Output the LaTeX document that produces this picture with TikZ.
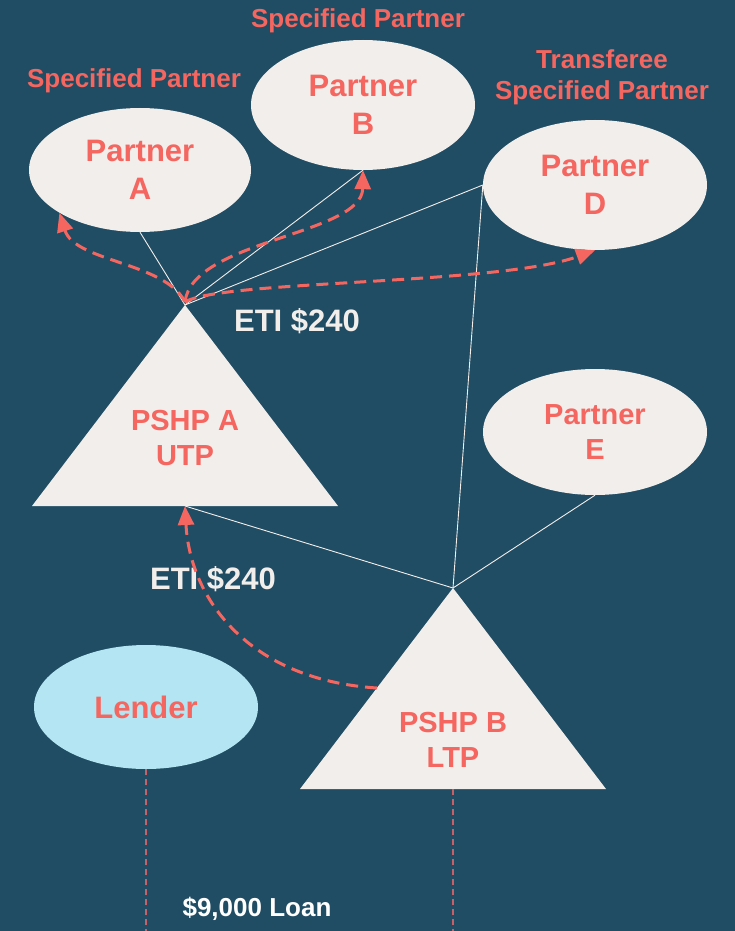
\documentclass[tikz,border=0pt]{standalone}
\usepackage{fontspec}
\setmainfont{Liberation Sans}
\usetikzlibrary{shapes.geometric,arrows.meta}

\definecolor{bg}{HTML}{204D63}
\definecolor{coral}{HTML}{F4665F}
\definecolor{shell}{HTML}{F2EEEB}
\definecolor{sky}{HTML}{B3E6F2}
\definecolor{guide}{HTML}{C8606A}

\tikzset{
  party/.style={ellipse, fill=shell, draw=none, minimum width=224pt, minimum height=128pt,
    inner sep=0pt, align=center, text=coral, font=\bfseries\fontsize{31}{38}\selectfont},
  tag/.style={text=coral, font=\bfseries\fontsize{26}{31}\selectfont, align=center, inner sep=0pt},
  eti/.style={text=shell, font=\bfseries\fontsize{31}{36}\selectfont, inner sep=0pt},
  loan/.style={text=white, font=\bfseries\fontsize{26}{31}\selectfont, inner sep=0pt},
  entity/.style={text=coral, font=\bfseries\fontsize{29}{35}\selectfont, align=center, inner sep=0pt},
  tri/.style={fill=shell, draw=none},
  link/.style={draw=shell, line width=0.9pt},
  flow/.style={draw=coral, line width=3pt, dash pattern=on 12pt off 7pt,
    -{Triangle[length=19pt,width=16pt]}},
  guideline/.style={draw=guide, line width=1.1pt, dash pattern=on 6pt off 4pt},
}

\begin{document}
\begin{tikzpicture}[x=1pt,y=-1pt]
  % canvas
  \fill[bg] (0,0) rectangle (735,931);
  \useasboundingbox (0,0) rectangle (735,931);

  % partners and lender
  \node[party, minimum width=222pt, minimum height=124pt] (pA) at (140,170) {Partner\\A};
  \node[party, minimum height=130pt] (pB) at (363,105) {Partner\\B};
  \node[party, minimum height=130pt] (pD) at (595,185) {Partner\\D};
  \node[party, minimum height=126pt, font=\bfseries\fontsize{29}{35}\selectfont] (pE) at (595,432) {Partner\\E};
  \node[party, fill=sky, minimum height=124pt] (lender) at (146,707) {Lender};

  % partnership triangles
  \coordinate (uApex) at (185,305);
  \coordinate (uLeft) at (32,506);
  \coordinate (uRight) at (338,506);
  \coordinate (uBase) at (185,506);
  \coordinate (lApex) at (453,588);
  \coordinate (lLeft) at (300,789);
  \coordinate (lRight) at (606,789);
  \coordinate (lBase) at (453,789);
  \fill[tri] (uApex) -- (uLeft) -- (uRight) -- cycle;
  \fill[tri] (lApex) -- (lLeft) -- (lRight) -- cycle;
  \node[entity] (utp) at (185,438.5) {PSHP A\\UTP};
  \node[entity] (ltp) at (453,739.5) {PSHP B\\LTP};

  % ownership links
  \draw[link] (uApex) -- (pA.south);
  \draw[link] (uApex) -- (pB.south);
  \draw[link] (uApex) -- (pD.west);
  \draw[link] (lApex) -- (pD.west);
  \draw[link] (lApex) -- (pE.south);
  \draw[link] (lApex) -- (uBase);

  % loan guides
  \coordinate (lenderEnd) at (146,931);
  \coordinate (ltpEnd) at (453,931);
  \draw[guideline] (lender.south) -- (lenderEnd);
  \draw[guideline] (lBase) -- (ltpEnd);

  % labels
  \node[tag, anchor=base] (specA) at (134,88) {Specified Partner};
  \node[tag, anchor=base] (specB) at (358,28) {Specified Partner};
  \node[tag] (specD) at (602,77.7) {Transferee\\Specified Partner};
  \node[eti, anchor=base] (etiTop) at (297,331) {ETI \$240};
  \node[eti, anchor=base] (etiLow) at (213,589) {ETI \$240};
  \node[loan, anchor=base] (loanTxt) at (257,916) {\$9,000 Loan};

  % income allocation flows
  \coordinate (flowStart) at (185,302);
  \coordinate (flowLow) at (377,688);
  \draw[flow] (flowStart) .. controls (165,262) and (75,262) .. (pA.208);
  \draw[flow] (flowStart) .. controls (192,240) and (362,235) .. (pB.south);
  \draw[flow] (flowStart) .. controls (220,280) and (500,285) .. (pD.south);
  \draw[flow] (flowLow) .. controls (250,680) and (190,600) .. (uBase);
\end{tikzpicture}
\end{document}
